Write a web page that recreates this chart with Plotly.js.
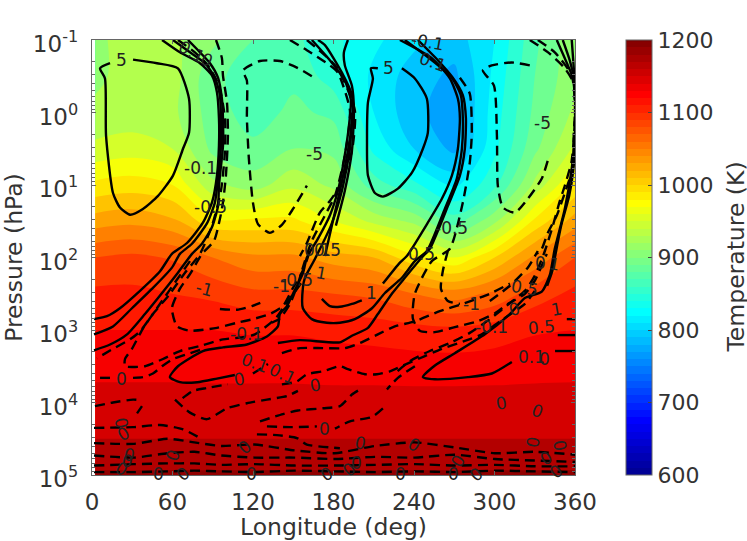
<!DOCTYPE html>
<html><head><meta charset="utf-8">
<script src="https://cdn.plot.ly/plotly-3.0.1.min.js"></script>
<style>html,body{margin:0;padding:0;background:#fff}</style></head>
<body><div id="chart" style="width:747px;height:541px"></div>
<script>
const gridLon=[2.4,30,60,90,120,150,180,210,240,270,300,330,360];
const gridLogP=[-1,-0.5,0,0.5,1,1.5,2,2.5,3,3.5,4,4.5,5];
const row0=[915,930,925,905,880,865,845,825,805,790,820,875,915];
const row1=[915,930,930,885,870,875,850,815,790,775,825,880,915];
const row2=[925,928,925,890,870,885,875,820,785,770,830,885,925];
const row3=[945,950,940,895,885,900,895,835,800,775,835,895,945];
const row4=[985,990,980,925,910,935,915,870,845,815,855,925,985];
const row5=[1030,1035,1025,985,985,985,960,935,915,870,915,985,1030];
const row6=[1080,1085,1078,1060,1045,1045,1030,1020,985,960,1000,1045,1080];
const row7=[1105,1105,1100,1095,1085,1085,1080,1075,1060,1050,1065,1090,1105];
const row8=[1120,1120,1120,1120,1118,1118,1115,1112,1108,1105,1110,1118,1120];
const row9=[1132,1132,1132,1131,1131,1131,1130,1130,1129,1129,1130,1131,1132];
const row10=[1150,1150,1150,1150,1150,1150,1149,1149,1149,1149,1149,1150,1150];
const row11=[1160,1160,1160,1160,1160,1160,1160,1160,1160,1160,1160,1160,1160];
const row12=[1183,1183,1183,1183,1183,1183,1183,1183,1183,1183,1183,1183,1183];
const temperature=[row0,row1,row2,row3,row4,row5,row6,row7,row8,row9,row10,row11,row12];

const s1Lon=[12,4.5,8.2,9,14.2,19.4,27,36.6,47.9,59.1,66.6,71.1,71.1,62.8,47.1,29.2];
const s1Log=[-.68,-.61,-.47,.32,1.11,1.31,1.41,1.33,1.15,.87,.5,.28,-.19,-.61,-.68,-.73];
const s2Lon=[50.9,64.3,79.3,88.3,92,93.5,93.5,92,88.3,81.5,69.6,58.3,49.4,34.4,19.4,9.7,0];
const s2Log=[-1,-.83,-.68,-.51,-.28,.08,.46,.87,1.24,1.52,1.8,1.95,2.19,2.46,2.7,2.81,2.85];
const s3Lon=[59.1,71.8,83,90.5,94.2,95,95,92.8,90.5,84.5,73.3,64.3,58.3,44.1,28.4,14.2,0];
const s3Log=[-1,-.83,-.68,-.48,-.24,.08,.46,.91,1.24,1.53,1.81,1.95,2.14,2.42,2.7,2.95,3.06];
const s4Lon=[70.3,79.3,86.8,92.8,95.7,96.5,96.5,93.5,92.8,88.3,80.8,73.3,62.8,50.9,38.1,24.7,12,0];
const s4Log=[-1,-.83,-.68,-.48,-.19,.08,.46,1.01,1.29,1.58,1.81,1.95,2.21,2.49,2.78,3.06,3.2,3.28];
const s5Lon=[105.4,92,77.3,64.3,56.8,62.8,81.5,96.5,114.4,129.4,137.6,139.1,144.4,148.9,156.3,159.3,167.6,176.5,182.5,187,190.8,192.2,187.7,176.5,163];
const s5Log=[3.62,3.67,3.72,3.72,3.65,3.5,3.29,3.24,3.2,3.09,2.95,2.78,2.67,2.5,2.22,2,1.74,1.42,1.08,.66,.18,-.17,-.44,-.72,-1];
const s6Lon=[193,191.5,185.5,177.3,165.3,157.8,156.3,156.3,163,174.3,184,195.2,208,217.7,230.4,240.1,249.1,262.5,271.5,275.3,276,274.5,267.8,255,232.6];
const s6Log=[0,.5,1.08,1.56,2.02,2.28,2.42,2.7,2.85,2.9,2.9,2.85,2.7,2.49,2.28,2.05,1.91,1.33,.91,.5,.08,-.24,-.48,-.69,-1];
const s7Lon=[172.8,178,184,190,193.7,193,185.5,172.8,167.6];
const s7Log=[1.98,1.56,1.08,.53,.04,-.24,-.55,-.93,-1];
const s8Lon=[212.4,207.2,208.7,205,204.3,205,210.2,216.2,227.4,237.9,246.1,249.8,249.1,240.1,230.4];
const s8Log=[-.61,-.61,-.47,-.14,.36,.87,1.11,1.16,1.05,.83,.5,.28,-.19,-.47,-.61];
const s9Lon=[190,187,187.7,193,194.5,193,187.7,181];
const s9Log=[-1,-.83,-.65,-.37,-.03,.53,1.08,1.56];
const t1Lon=[170.5,176.5,184,193,200.4,null,216.2,228.9,234.1,249.8,260.3,267.8,272.3,273.8,272.3,266.3,252.8,228.9];
const t1Log=[2.57,2.67,2.68,2.64,2.59,null,2.36,2.07,1.98,1.52,1.19,.87,.5,.08,-.19,-.47,-.75,-1];
const t3Lon=[137.6,154.1,184,193,205,212.4,222.9,232.6,245.3,251.3,264.8,273.8,277.5,278.3,276,268.5,257.3,242.4];
const t3Log=[3.18,3.14,3.17,3.08,2.97,2.78,2.5,2.28,2,1.88,1.29,.87,.5,.08,-.24,-.48,-.72,-1];
const r1Lon=[346.3,354.6,358.3,360,360,357.5,352.3,344.8,341.1,335.1,322.4,311.2,292.5,270,255.1,246.1,255.1,279.8,297.7,312.7];
const r1Log=[-1,-.65,-.48,-.14,.32,.77,1.33,1.88,2.24,2.47,2.56,2.78,3.06,3.32,3.49,3.65,3.68,3.65,3.6,3.44];
const r2Lon=[357.5,360,360,358.6,355.6,349.6,345.1,342.9,339.1];
const r2Log=[-1,-.3,.39,.8,1.15,1.56,1.98,2.19,2.39];
const r3Lon=[350.8,356,359.8];
const r3Log=[-1,-.72,-.44];
const r4Lon=[353.8,360]; const r4Log=[2.85,2.85];
const r5Lon=[347,360]; const r5Log=[3.07,3.07];
const r6Lon=[345,360]; const r6Log=[3.29,3.29];

const d1Lon=[91.3,95.7,96.5,99.5,100.2,98.7,96.5,94.2,89.8,80.8,71.8,64.3,58.3,62.1,71.8,92,107,118.9,131.6,141.4,148.9,156.3,161.6];
const d1Log=[-1,-.75,-.51,-.14,.32,.87,1.24,1.47,1.77,1.95,2.23,2.43,2.7,2.95,3.01,2.97,2.9,2.85,2.78,2.67,2.42,2.18,1.91];
const d1bLon=[94.2,107,118.2,127.9]; const d1bLog=[2.71,2.72,2.67,2.6];
const d2Lon=[62.8,75.5,85.3,93.5,98,98,95,88.3,79.3,68.1,56.8,44.1,34.4,26.9,14.2,2.2];
const d2Log=[-1,-.83,-.65,-.37,.08,.53,1.08,1.56,1.95,2.21,2.5,2.78,3.02,3.13,3.26,3.39];
const d3Lon=[71.8,47.1,36.6,28.4,23.2,23.2,30.7,38.1,51.6,64.3,79.3,96.5,111.4,120.4,135.4,141.4,156.3];
const d3Log=[2.05,2.7,2.98,3.26,3.4,3.5,3.51,3.5,3.4,3.29,3.22,3.13,3.1,3.06,2.85,2.7,2.32];
const d4Lon=[4.5,13.5,null,29.2,36.6,44.1,50.9,59.1,71.8,83];
const d4Log=[3.66,3.66,null,3.66,3.65,3.6,3.5,3.4,3.32,3.25];
const d5Lon=[66.3,74,84.5,100.2]; const d5Log=[3.94,3.84,3.8,3.75];
const d6Lon=[118.9,130.2]; const d6Log=[3.6,3.47];
const d7Lon=[140.6,151.8,159.3,171.3,184,190,202.7,211.7,221.4,234.9,247.6,260.3,277.5,290.2,303.7,322.4,329.9];
const d7Log=[3.75,3.71,3.61,3.57,3.5,3.54,3.61,3.61,3.57,3.46,3.36,3.26,3.15,3.06,2.88,2.64,2.46];
const d8Lon=[140.6,154.1,171.3,187.7,199,212.4,225.1,240.1,258.8,277.5,296.2,311.2];
const d8Log=[3.32,3.25,3.25,3.25,3.18,3.06,2.95,2.88,2.74,2.63,2.5,2.36];
const d9Lon=[264.8,261.1,259.6,264.8,273.8,null,296.2,311.2,324.6,332.1];
const d9Log=[1.91,2.18,2.43,2.6,2.64,null,2.6,2.39,2.14,1.91];
const d10Lon=[273.8,281.2,282.7,281.2,276,266.3,252.8,240.1,238.6,243.8,255.1,270,287.2,300,309.7,322.4,329.9,338.8];
const d10Log=[-.48,-.26,.28,.69,1.24,1.88,2.05,2.5,2.84,3.01,3.03,2.96,2.88,2.77,2.64,2.5,2.32,1.95];
const d11Lon=[163,151.8,139.1,124.2,111.5,114.4,114.4,115.9,118.9,122.7,131.6,140.6,148.9,159.3];
const d11Log=[-.5,-.62,-.71,-.71,-.58,-.44,.08,.64,1.24,1.54,1.66,1.55,1.33,1.01];
const d12Lon=[326.1,312.7,297.7,291,299.3,301.5,302.2,306,315,324.6,335.1,339.6];
const d12Log=[-.65,-.69,-.65,-.58,-.37,.32,1.01,1.31,1.38,1.19,.91,.66];
const d14Lon=[146.6,159.3,176.5,182.5,191.5,187.7,180.3,172.8,163,157.8,152.6,146.6,139.1,133.1];
const d14Log=[-1,-.86,-.65,-.55,-.03,.6,1.15,1.42,1.77,2.05,2.36,2.64,2.84,2.9];
const d15Lon=[159.3,181.8,195.2,193,184,176.5,169,159.3,154.1];
const d15Log=[-1,-.62,-.03,.53,1.01,1.22,1.38,1.8,1.98];
const d16Lon=[326.1,339.8,352.3,359.8,359,358.2,352.3,346.3,339.6,335.1,331.4];
const d16Log=[-1,-.83,-.61,-.37,.32,.77,1.11,1.42,1.66,1.88,1.95];
const d17Lon=[332.1,344.8,357.5,360,357.5,352.3,348.6,343.4,337.4,329.9,322.4,311.2,296.2,281.2,266.3,251.3,236.4,225.1];
const d17Log=[-1,-.83,-.51,-.03,.66,1.01,1.22,1.56,1.91,2.25,2.46,2.63,2.85,3.04,3.18,3.29,3.43,3.6];
const d18Lon=[240.1,227.4,219.2]; const d18Log=[3.5,3.66,3.82];
const d19Lon=[216.2,207.9,191.5,180.3]; const d19Log=[4.08,4.2,4.26,4.36];
const d20Lon=[.7,14.2,29.2,35.9]; const d20Log=[4.05,4,3.96,3.97];
const d21Lon=[35.9,32.2]; const d21Log=[4.05,4.15];
const d22Lon=[60.6,71.8,84.5,99.5,114.4,129.4,144.4,152.6]; const d22Log=[3.96,4.14,4.23,4.08,4.01,3.96,3.91,3.84];
const d23Lon=[124.2,141.4,152.6,171.3,184,193,199]; const d23Log=[4.26,4.16,4.11,4.08,4.05,3.89,3.82];
const d24Lon=[0,29.2,49.4,66.6,79.3]; const d24Log=[4.35,4.34,4.31,4.37,4.49];
const d25Lon=[121.9,136.9,151.8,159.3,184]; const d25Log=[4.44,4.45,4.49,4.58,4.63];
const d26Lon=[129.4,146.6,166.8]; const d26Log=[4.33,4.34,4.33];
const bandLon=[0,30,55,75,95,120,150,180,210,240,270,300,330,360];
const b1Log=[4.56,4.57,4.5,4.55,4.6,4.58,4.66,4.7,4.6,4.55,4.62,4.7,4.68,4.72];
const b2Log=[4.73,4.76,4.7,4.68,4.73,4.76,4.76,4.78,4.75,4.76,4.72,4.78,4.8,4.82];
const b3Log=[4.87,4.85,4.84,4.84,4.86,4.85,4.87,4.87,4.86,4.85,4.87,4.86,4.88,4.88];
const b4Log=[4.96,4.96,4.95,4.94,4.95,4.96,4.94,4.95,4.96,4.95,4.96,4.94,4.95,4.96];

const labelLon=[20.9,73.3,84.5,165.3,80,86.8,167.6,175,170.5,151.8,140.6,83,114.4,120.4,141.4,109.2,166,20.2,172.8,249.8,253.6,220.7,335.9,267.8,245.3,208,282.7,322.4,297.7,314.9,346.3,335.1,327.6,337.3,344.8,334.4,305.2,332.1,199.7,240.1,196.7,191.5,229.6,269.3,286.5,272.3,328.4,348.6,338.8,346.3,20.9,21.7,26.9,25.4,20.9,59.1,47.9,66.6,112.9,118.2,174.3];
const labelLog=[-.72,-.83,-.72,.57,.77,1.3,1.89,1.89,2.21,2.31,2.39,2.43,3.06,3.46,3.61,3.68,3.76,3.68,4.36,-.97,-.69,-.61,.14,1.59,1.95,2.49,2.64,2.42,2.96,2.71,2.71,2.96,3.37,3.4,2.09,2.07,4.01,4.12,4.56,4.58,4.83,4.92,4.99,4.99,4.99,4.8,4.54,4.6,4.77,4.95,4.29,4.43,4.72,4.81,4.92,4.72,4.99,4.99,4.61,4.99,4.98];
const labelText=["5","0.1","0","-5","-0.1","-0.5","0.1","0.5","1","-0.5","-1","-1","-0.1","0.1","0.1","0","0","0","0","-0.1","0.1","5","-5","-0.5","0.5","1","-1","0.5","-0.1","0","1","0.5","0.1","0","1","0","0","0","0","0","0","0","0","0","0","0","0","0","0","0","0","0","0","0","0","0","0","0","0","0","0"];
const labelAngle=[0,30,30,0,0,0,0,0,10,0,0,15,0,20,25,-10,-10,0,0,10,20,0,0,0,0,0,0,10,0,-15,-10,-5,0,0,10,0,-10,20,10,30,0,-40,0,0,-40,-60,-80,80,-30,-40,80,-30,10,10,30,-70,0,-40,-40,0,-30];

const xTicks=[0,60,120,180,240,300,360];
const yTicks=[0.1,1,10,100,1000,10000,100000];
const yTickText=['10<sup>-1</sup>','10<sup>0</sup>','10<sup>1</sup>','10<sup>2</sup>','10<sup>3</sup>','10<sup>4</sup>','10<sup>5</sup>'];
const yMinor=[0.2,0.3,0.4,0.5,0.6,0.7,0.8,0.9,2,3,4,5,6,7,8,9,20,30,40,50,60,70,80,90,200,300,400,500,600,700,800,900,2000,3000,4000,5000,6000,7000,8000,9000,20000,30000,40000,50000,60000,70000,80000,90000];
const barTicks=[600,700,800,900,1000,1100,1200];
const textColor='#333333';
const fontFamily='"DejaVu Sans", sans-serif';

const toP=a=>a.map(v=>v===null?null:Math.pow(10,v));
const calLon=a=>a.map(v=>v===null?null:1.5+0.996*v);
const jet=[[0,'#00008f'],[0.125,'#0000ff'],[0.375,'#00ffff'],[0.625,'#ffff00'],[0.875,'#ff0000'],[1,'#800000']];

const solidLines=[[s1Lon,s1Log],[s2Lon,s2Log],[s3Lon,s3Log],[s4Lon,s4Log],[s5Lon,s5Log],[s6Lon,s6Log],[s7Lon,s7Log],[s8Lon,s8Log],[s9Lon,s9Log],[t1Lon,t1Log],[t3Lon,t3Log],[r1Lon,r1Log],[r2Lon,r2Log],[r3Lon,r3Log],[r4Lon,r4Log],[r5Lon,r5Log],[r6Lon,r6Log]];
const dashedLines=[[d1Lon,d1Log],[d1bLon,d1bLog],[d2Lon,d2Log],[d3Lon,d3Log],[d4Lon,d4Log],[d5Lon,d5Log],[d6Lon,d6Log],[d7Lon,d7Log],[d8Lon,d8Log],[d9Lon,d9Log],[d10Lon,d10Log],[d11Lon,d11Log],[d12Lon,d12Log],[d14Lon,d14Log],[d15Lon,d15Log],[d16Lon,d16Log],[d17Lon,d17Log],[d18Lon,d18Log],[d19Lon,d19Log],[d20Lon,d20Log],[d21Lon,d21Log],[d22Lon,d22Log],[d23Lon,d23Log],[d24Lon,d24Log],[d25Lon,d25Log],[d26Lon,d26Log],[bandLon,b1Log],[bandLon,b2Log],[bandLon,b3Log],[bandLon,b4Log]];

const traces=[
 {type:'contour',x:gridLon,y:toP(gridLogP),z:temperature,zmin:600,zmax:1200,colorscale:jet,autocontour:false,
  contours:{start:600,end:1200,size:10,coloring:'fill',showlines:false},line:{width:0},hoverinfo:'skip',
  colorbar:{x:(626-92)/483,xanchor:'left',y:0.5,yanchor:'middle',len:1,lenmode:'fraction',thickness:26,thicknessmode:'pixels',xpad:0,ypad:0,
    outlinecolor:'#666',outlinewidth:1,tickmode:'array',tickvals:barTicks,ticks:'inside',ticklen:4,tickcolor:'#444',
    tickfont:{size:22,color:textColor,family:fontFamily}}},
 {type:'contour',x:gridLon,y:toP(gridLogP),z:temperature,zmin:600,zmax:1200,colorscale:jet,autocontour:false,showscale:false,
  contours:{start:600,end:1200,size:20,coloring:'fill',showlines:false},line:{width:0},hoverinfo:'skip'}];
solidLines.forEach(l=>traces.push({type:'scatter',mode:'lines',x:calLon(l[0]),y:toP(l[1]),line:{color:'#000',width:2.4,shape:'spline',smoothing:0.6},hoverinfo:'skip',showlegend:false}));
dashedLines.forEach(l=>traces.push({type:'scatter',mode:'lines',x:calLon(l[0]),y:toP(l[1]),line:{color:'#000',width:2.4,dash:'10px,6px',shape:'spline',smoothing:0.6},hoverinfo:'skip',showlegend:false}));

const annotations=labelText.map((t,i)=>({x:1.5+0.996*labelLon[i],y:labelLog[i],xref:'x',yref:'y',text:t,showarrow:false,textangle:labelAngle[i],
  font:{size:17,color:'#222',family:fontFamily},xanchor:'center',yanchor:'middle'}));
annotations.push({x:(735-92)/483,y:0.5,xref:'paper',yref:'paper',text:'Temperature (K)',showarrow:false,textangle:-90,
  font:{size:23.5,color:textColor,family:fontFamily},xanchor:'center',yanchor:'middle'});

Plotly.newPlot('chart',traces,{width:747,height:541,paper_bgcolor:'#fff',plot_bgcolor:'#fff',showlegend:false,
  margin:{l:92,r:172,t:40,b:66,pad:0},annotations,
  xaxis:{range:[0,360],tickmode:'array',tickvals:xTicks,ticks:'inside',ticklen:4,tickcolor:'#666',showgrid:false,zeroline:false,showline:true,linecolor:'#666',linewidth:1,mirror:'ticks',ticklabelstandoff:6,
    tickfont:{size:23,color:textColor,family:fontFamily},title:{text:'Longitude (deg)',font:{size:23.5,color:textColor,family:fontFamily},standoff:2}},
  yaxis:{type:'log',range:[5,-1],autorange:false,tickmode:'array',tickvals:yTicks,ticktext:yTickText,ticks:'inside',ticklen:4,tickcolor:'#666',showgrid:false,zeroline:false,showline:true,linecolor:'#666',linewidth:1.2,mirror:'ticks',ticklabelstandoff:8,
    minor:{tickmode:'array',tickvals:yMinor,ticks:'inside',ticklen:3,tickcolor:'#666',showgrid:false},
    tickfont:{size:23,color:textColor,family:fontFamily},title:{text:'Pressure (hPa)',font:{size:23.5,color:textColor,family:fontFamily},standoff:8}}
},{displayModeBar:false,staticPlot:true}).then(()=>{
  document.querySelectorAll('.ytick text').forEach(el=>{
    el.setAttribute('transform',(el.getAttribute('transform')||'')+' translate(0,4)');
  });
});
</script></body></html>
